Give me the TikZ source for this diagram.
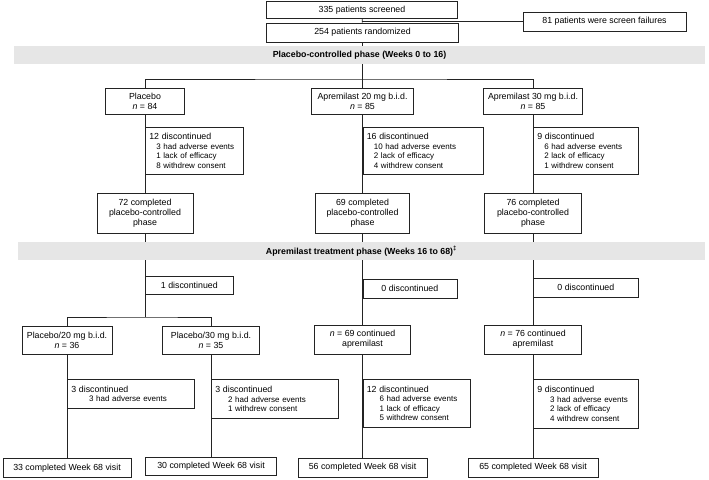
\documentclass[tikz,border=0pt]{standalone}
\usepackage{fontspec}
\setmainfont{Liberation Sans}
\usetikzlibrary{calc}
\definecolor{BandClr}{RGB}{230,230,230}
\definecolor{LineClr}{RGB}{35,35,35}
\newcommand{\rsn}[1][7pt]{\hspace*{#1}}
\newcommand{\hdl}[1]{{\fontsize{8.8}{10}\selectfont #1}}

\begin{document}
\begin{tikzpicture}[x=1pt,y=-1pt,
  every node/.style={font=\fontsize{8.8}{10}\selectfont},
  box/.style 2 args={draw=LineClr,line width=0.7pt,align=center,inner sep=0pt,minimum width=#1,minimum height=#2},
  disc/.style 2 args={draw=LineClr,line width=0.7pt,anchor=north west,align=left,inner xsep=4pt,inner ysep=0pt,text width=#1,minimum height=#2,font=\fontsize{8}{9.4}\selectfont},
  band/.style={fill=BandClr,inner sep=0pt,minimum height=18pt,font=\fontsize{8.8}{10}\selectfont\bfseries},
  conn/.style={draw=LineClr,line width=0.7pt}]
\useasboundingbox (0,0) rectangle (709,479);

\node[box={191}{17.5}] (screened) at (362,9.75) {335 patients screened};
\node[box={192}{19}] (randomized) at (362.5,32.5) {254 patients randomized};
\node[box={163}{19}] (failures) at (604.5,21.5) {81 patients were screen failures};

\node[box={79}{26.5}] (pbo) at (145,101.5) {Placebo\\\textit{n} = 84};
\node[box={102}{26.5}] (apr20) at (362.5,101.5) {Apremilast 20 mg b.i.d.\\\textit{n} = 85};
\node[box={99}{26.5}] (apr30) at (533,101.5) {Apremilast 30 mg b.i.d.\\\textit{n} = 85};

\node[disc={90pt}{47}] (discP) at (145,127) {\hdl{12 discontinued}\\\rsn 3 had adverse events\\\rsn 1 lack of efficacy\\\rsn 8 withdrew consent};
\node[disc={112pt}{47}] (disc20) at (362.5,127) {\hdl{16 discontinued}\\\rsn 10 had adverse events\\\rsn 2 lack of efficacy\\\rsn 4 withdrew consent};
\node[disc={97pt}{47}] (disc30) at (533,127) {\hdl{9 discontinued}\\\rsn 6 had adverse events\\\rsn 2 lack of efficacy\\\rsn 1 withdrew consent};

\node[box={96}{40}] (compP) at (145,213) {72 completed\\placebo-controlled\\phase};
\node[box={94}{40}] (comp20) at (362.5,213) {69 completed\\placebo-controlled\\phase};
\node[box={97}{40}] (comp30) at (533,213) {76 completed\\placebo-controlled\\phase};

\node[box={88}{17.5},anchor=north west] (disc1) at (145,276) {1 discontinued};
\node[box={94}{19},anchor=north west] (disc0a) at (362.5,279) {0 discontinued};
\node[box={105}{19},anchor=north west] (disc0b) at (533,278) {0 discontinued};

\node[box={90}{28}] (pbo20) at (67,340) {Placebo/20 mg b.i.d.\\\textit{n} = 36};
\node[box={97}{28}] (pbo30) at (211,340) {Placebo/30 mg b.i.d.\\\textit{n} = 35};
\node[box={96}{29}] (cont20) at (362.5,339.5) {\textit{n} = 69 continued\\apremilast};
\node[box={97}{29}] (cont30) at (533,339.5) {\textit{n} = 76 continued\\apremilast};

\node[disc={119pt}{29}] (discP20) at (67,379) {\hdl{3 discontinued}\\\rsn[15pt] 3 had adverse events};
\node[disc={119pt}{39}] (discP30) at (211,379) {\hdl{3 discontinued}\\\rsn[10pt] 2 had adverse events\\\rsn[10pt] 1 withdrew consent};
\node[disc={99pt}{48}] (disc20b) at (362.5,379) {\hdl{12 discontinued}\\\rsn[10pt] 6 had adverse events\\\rsn[10pt] 1 lack of efficacy\\\rsn[10pt] 5 withdrew consent};
\node[disc={97pt}{49}] (disc30b) at (533,379) {\hdl{9 discontinued}\\\rsn[10pt] 3 had adverse events\\\rsn[10pt] 2 lack of efficacy\\\rsn[10pt] 4 withdrew consent};

\node[box={128}{19}] (wkP20) at (67,468) {33 completed Week 68 visit};
\node[box={131}{17.5}] (wkP30) at (211,466.5) {30 completed Week 68 visit};
\node[box={129}{19}] (wk20) at (362.5,467.5) {56 completed Week 68 visit};
\node[box={130}{19}] (wk30) at (533,467.5) {65 completed Week 68 visit};

\coordinate (s1) at (362.5,79);
\coordinate (s2) at (145,317);

\draw[conn] (screened) -- (randomized);
\draw[conn] (screened.south |- failures.west) -- (failures.west);
\draw[conn] (randomized) -- (s1);
\draw[conn] (pbo.north) |- (s1) -| (apr30.north);
\draw[conn] (s1) -- (apr20.north);
\draw[conn] (pbo) -- (compP);
\draw[conn] (apr20) -- (comp20);
\draw[conn] (apr30) -- (comp30);
\draw[conn] (compP) -- (s2);
\draw[conn] (pbo20.north) |- (s2) -| (pbo30.north);
\draw[conn] (comp20) -- (cont20);
\draw[conn] (comp30) -- (cont30);
\draw[conn] (pbo20) -- (wkP20);
\draw[conn] (pbo30) -- (wkP30);
\draw[conn] (cont20) -- (wk20);
\draw[conn] (cont30) -- (wk30);

\node[band,minimum width=691] (phaseA) at (359.5,55) {Placebo-controlled phase (Weeks 0 to 16)};
\node[band,minimum width=687] (phaseB) at (361.5,251) {Apremilast treatment phase (Weeks 16 to 68)\textsuperscript{‡}};

\end{tikzpicture}
\end{document}
